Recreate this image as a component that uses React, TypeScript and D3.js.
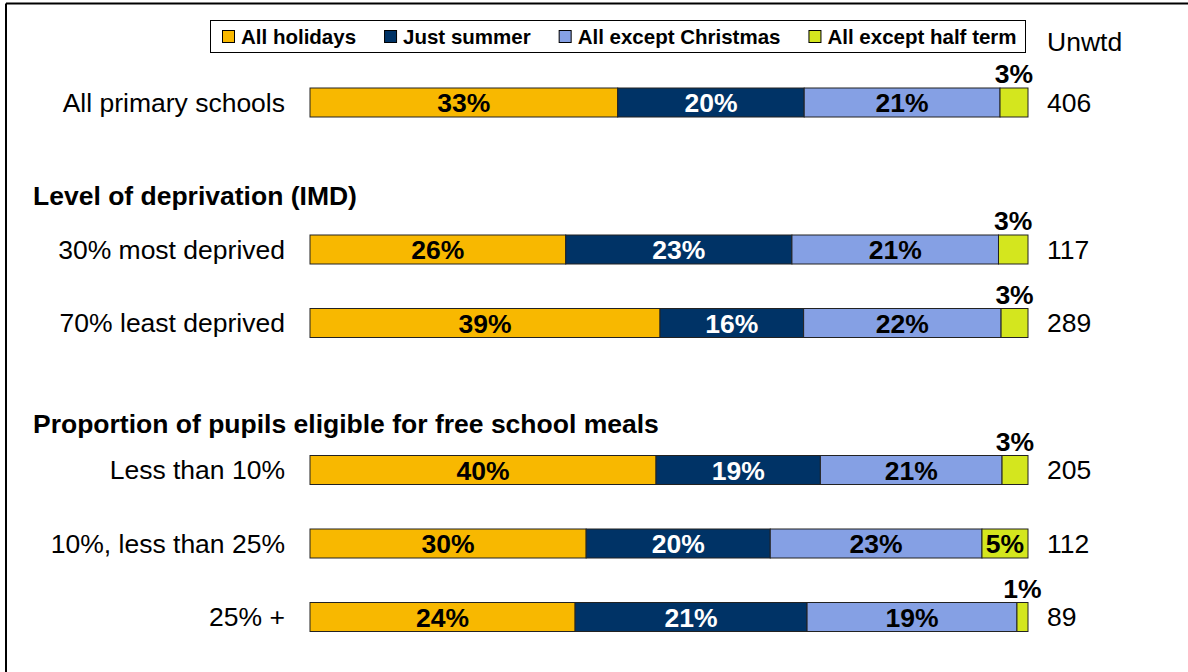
import React, { useMemo } from 'react';
import * as d3 from 'd3';

const rowKeys = ['all', 'h1', 'd30', 'd70', 'h2', 'f10', 'f25', 'f25p'];

const categories = [
  'All primary schools',
  '30% most deprived',
  '70% least deprived',
  'Less than 10%',
  '10%, less than 25%',
  '25% +',
];
const categoryRows = ['all', 'd30', 'd70', 'f10', 'f25', 'f25p'];

const headings = ['Level of deprivation (IMD)', 'Proportion of pupils eligible for free school meals'];
const headingRows = ['h1', 'h2'];

const seriesNames = ['All holidays', 'Just summer', 'All except Christmas', 'All except half term'];
const allHolidays = [33, 26, 39, 40, 30, 24];
const justSummer = [20, 23, 16, 19, 20, 21];
const exceptChristmas = [21, 21, 22, 21, 23, 19];
const exceptHalfTerm = [3, 3, 3, 3, 5, 1];
const unweighted = [406, 117, 289, 205, 112, 89];

const colors = ['#F8B800', '#003366', '#85A0E4', '#D4E61E'];
const labelColors = ['#000', '#fff', '#000', '#000'];

const FONT = '"Liberation Sans", Arial, sans-serif';
const W = 1188;
const H = 672;

function measure(text: string, font: string) {
  const ctx = document.createElement('canvas').getContext('2d');
  if (!ctx) return text.length * 10;
  ctx.font = font;
  return ctx.measureText(text).width;
}

const App: React.FC = () => {
  const rows = categories.map((c, i) => ({
    key: categoryRows[i],
    label: c,
    s0: allHolidays[i],
    s1: justSummer[i],
    s2: exceptChristmas[i],
    s3: exceptHalfTerm[i],
    n: unweighted[i],
  }));

  // 100% stacked: each bar fills the full width
  const stacked = d3.stack<any>().keys(['s0', 's1', 's2', 's3']).offset(d3.stackOffsetExpand)(rows);

  const x = d3.scaleLinear().domain([0, 1]).range([310, 1028]);
  const y = d3.scalePoint<string>().domain(rowKeys).range([102.5, 617]);
  const barH = 29;

  const legendFont = `bold 20.5px ${FONT}`;
  const legendItems = useMemo(() => {
    let cx = 222;
    return seriesNames.map((name, i) => {
      const w = measure(name, legendFont);
      const item = { name, x: cx, color: colors[i] };
      cx += 19 + w + 28;
      return item;
    });
  }, []);

  const valueFont = `bold 26.5px ${FONT}`;
  const fs = 26.5;

  return (
    <svg width={W} height={H} style={{ position: 'absolute', left: 0, top: 0, background: '#fff' }} fontFamily={FONT}>
      {/* frame */}
      <line x1={6} y1={3.5} x2={W} y2={3.5} stroke="#000" strokeWidth={2} />
      <line x1={6} y1={3.5} x2={6} y2={H} stroke="#000" strokeWidth={2} />

      {/* legend */}
      <rect x={210.5} y={20.5} width={815} height={32} fill="#fff" stroke="#000" strokeWidth={1} />
      {legendItems.map(it => (
        <g key={it.name}>
          <rect x={it.x + 0.5} y={30.5} width={12} height={12} fill={it.color} stroke="#000" strokeWidth={1} />
          <text x={it.x + 19} y={44} fontSize={20.5} fontWeight="bold">{it.name}</text>
        </g>
      ))}
      <text x={1047} y={51} fontSize={fs}>Unwtd</text>

      {/* headings */}
      {headings.map((h, i) => (
        <text key={h} x={33} y={(y(headingRows[i]) ?? 0) + (i === 0 ? 29 : 36)} fontSize={fs} fontWeight="bold">{h}</text>
      ))}

      {/* category labels + unweighted bases */}
      {rows.map(r => (
        <g key={r.key}>
          <text x={285} y={(y(r.key) ?? 0) + 9} fontSize={fs} textAnchor="end">{r.label}</text>
          <text x={1047} y={(y(r.key) ?? 0) + 9} fontSize={fs}>{r.n}</text>
        </g>
      ))}

      {/* bars */}
      {stacked.map((layer, si) => (
        <g key={layer.key}>
          {layer.map((seg, ri) => {
            const r = rows[ri];
            const cy = y(r.key) ?? 0;
            const x0 = x(seg[0]);
            const x1 = x(seg[1]);
            const val = (r as any)[layer.key] as number;
            const label = `${val}%`;
            const fits = measure(label, valueFont) + 6 < x1 - x0;
            return (
              <g key={r.key}>
                <rect x={x0} y={cy - barH / 2} width={x1 - x0} height={barH} fill={colors[si]} stroke="#222" strokeWidth={1} />
                {fits ? (
                  <text x={(x0 + x1) / 2} y={cy + 9.5} fontSize={fs} fontWeight="bold" textAnchor="middle" fill={labelColors[si]}>{label}</text>
                ) : (
                  <text x={(x0 + x1) / 2} y={cy - barH / 2 - 5} fontSize={fs} fontWeight="bold" textAnchor="middle" fill="#000">{label}</text>
                )}
              </g>
            );
          })}
        </g>
      ))}
    </svg>
  );
};

export default App;
